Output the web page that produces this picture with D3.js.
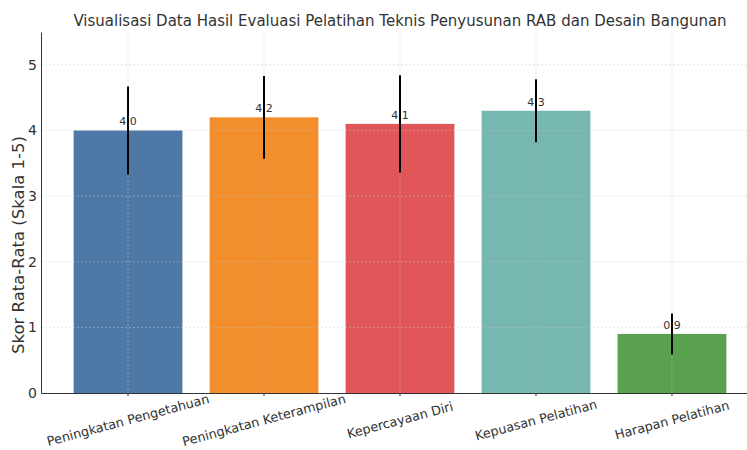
<!DOCTYPE html>
<html>
<head>
<meta charset="utf-8">
<script src="https://cdn.jsdelivr.net/npm/d3@7"></script>
<style>
  html, body { margin: 0; padding: 0; background: #fff; }
  svg { display: block; font-family: "DejaVu Sans", sans-serif; }
</style>
</head>
<body>
<svg id="chart" width="747" height="450"></svg>
<script>
const categories = ["Peningkatan Pengetahuan", "Peningkatan Keterampilan", "Kepercayaan Diri", "Kepuasan Pelatihan", "Harapan Pelatihan"];
const values = [4.0, 4.2, 4.1, 4.3, 0.9];
const errors = [0.67, 0.63, 0.74, 0.48, 0.31];
const colors = ["#4e79a7", "#f28e2b", "#e15759", "#76b7b2", "#59a14f"];
const yTicks = [0, 1, 2, 3, 4, 5];
const titleText = "Visualisasi Data Hasil Evaluasi Pelatihan Teknis Penyusunan RAB dan Desain Bangunan";
const yLabelText = "Skor Rata-Rata (Skala 1-5)";

const svg = d3.select("#chart");
const mLeft = 41, mRight = 759, mTop = 32, mBottom = 393;

const x = d3.scaleBand().domain(categories).range([mLeft, mRight]).paddingInner(0.2).paddingOuter(0.24);
const y = d3.scaleLinear().domain([0, 5.5]).range([mBottom, mTop]);
const cx = d => x(d) + x.bandwidth() / 2;

// Bars
svg.append("g").selectAll("rect").data(categories).join("rect")
  .attr("x", d => x(d))
  .attr("width", x.bandwidth())
  .attr("y", (d, i) => y(values[i]))
  .attr("height", (d, i) => y(0) - y(values[i]))
  .attr("fill", (d, i) => colors[i]);

// Grid (drawn above bars, faint)
const grid = svg.append("g").attr("stroke", "#c8c8c8").attr("stroke-opacity", 0.6)
  .attr("stroke-width", 0.8).attr("stroke-dasharray", "2,2");
grid.selectAll("line.h").data(yTicks.filter(t => t > 0)).join("line").attr("class", "h")
  .attr("x1", mLeft).attr("x2", mRight)
  .attr("y1", d => y(d)).attr("y2", d => y(d));
grid.selectAll("line.v").data(categories).join("line").attr("class", "v")
  .attr("x1", cx).attr("x2", cx)
  .attr("y1", mTop).attr("y2", mBottom);

// Value labels
svg.append("g").selectAll("text").data(categories).join("text")
  .attr("x", cx)
  .attr("y", (d, i) => y(values[i] + 0.08))
  .attr("text-anchor", "middle")
  .attr("font-size", 11)
  .attr("fill", "#333")
  .text((d, i) => values[i].toFixed(1));

// Error bars
svg.append("g").selectAll("line").data(categories).join("line")
  .attr("x1", cx).attr("x2", cx)
  .attr("y1", (d, i) => y(values[i] - errors[i]))
  .attr("y2", (d, i) => y(values[i] + errors[i]))
  .attr("stroke", "#000").attr("stroke-width", 2);

// Y axis
const yAxis = svg.append("g").attr("transform", `translate(${mLeft},0)`)
  .call(d3.axisLeft(y).tickValues(yTicks).tickFormat(d3.format("d")).tickSize(0).tickPadding(4));
yAxis.select(".domain").attr("stroke", "#333").attr("stroke-width", 1);
yAxis.selectAll(".tick text")
  .attr("font-size", 14).attr("fill", "#333")
  .attr("font-family", "DejaVu Sans, sans-serif");

// X axis
const xAxis = svg.append("g").attr("transform", `translate(0,${mBottom})`)
  .call(d3.axisBottom(x).tickSize(3).tickSizeOuter(0).tickFormat(""));
xAxis.select(".domain").attr("stroke", "#333").attr("stroke-width", 1);
xAxis.selectAll(".tick line").attr("stroke", "#333");

// X labels rotated
svg.append("g").selectAll("text").data(categories).join("text")
  .attr("transform", d => `translate(${cx(d)},${420}) rotate(-15)`)
  .attr("text-anchor", "middle")
  .attr("dominant-baseline", "central")
  .attr("font-size", 12.8)
  .attr("fill", "#333")
  .text(d => d);

// Title
svg.append("text")
  .attr("x", (mLeft + mRight) / 2).attr("y", 21)
  .attr("text-anchor", "middle").attr("dominant-baseline", "central")
  .attr("font-size", 15).attr("fill", "#333")
  .text(titleText);

// Y label
svg.append("text")
  .attr("transform", `translate(18,245) rotate(-90)`)
  .attr("text-anchor", "middle").attr("dominant-baseline", "central")
  .attr("font-size", 16.5).attr("fill", "#333")
  .text(yLabelText);
</script>
</body>
</html>
